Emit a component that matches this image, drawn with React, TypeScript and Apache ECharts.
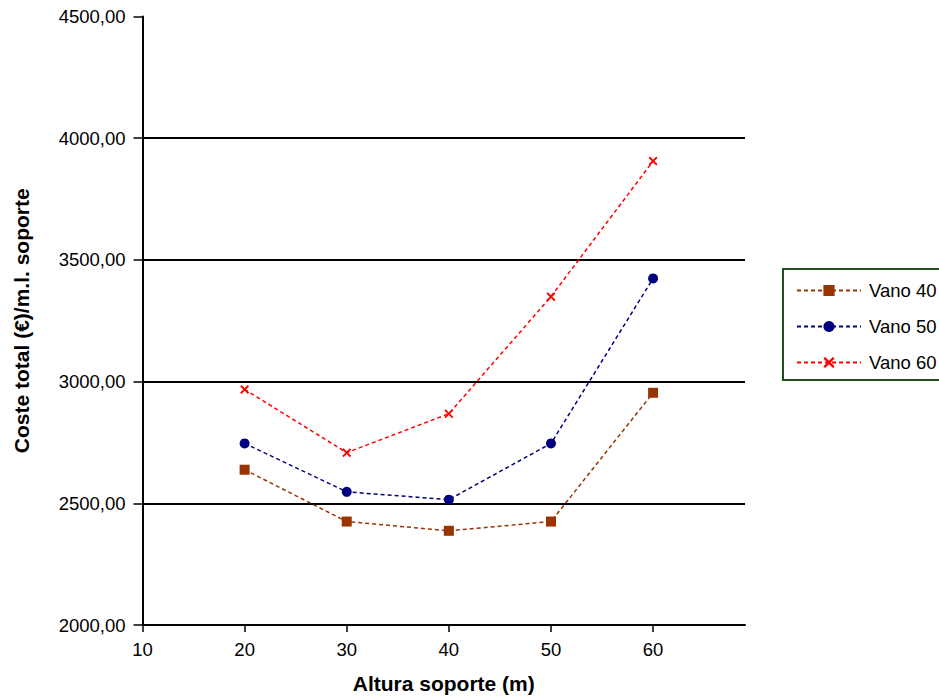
import React, { useEffect, useRef } from "react";
import * as echarts from "echarts";

const alturas = [20, 30, 40, 50, 60];
const vano40 = [2638, 2425, 2387, 2425, 2954];
const vano50 = [2746, 2547, 2515, 2746, 3424];
const vano60 = [2968, 2708, 2868, 3349, 3906];
const xTicks = [10, 20, 30, 40, 50, 60];
const seriesNames = ["Vano 40", "Vano 50", "Vano 60"];

const CROSS =
  "path://M0,1.5 L1.5,0 L5,3.5 L8.5,0 L10,1.5 L6.5,5 L10,8.5 L8.5,10 L5,6.5 L1.5,10 L0,8.5 L3.5,5 Z";

const FONT = "'Liberation Sans', Arial, Helvetica, sans-serif";

export default function App() {
  const ref = useRef<HTMLDivElement>(null);
  useEffect(() => {
    if (!ref.current) return;
    const chart = echarts.init(ref.current, null, { renderer: "svg" });
    const mk = (name: string, data: number[], color: string, symbol: string, size: number) => ({
      name,
      type: "line",
      data: alturas.map((x, i) => [x, data[i]]),
      symbol,
      symbolSize: size,
      showSymbol: true,
      lineStyle: { color, width: 1.5, type: [4, 3] },
      itemStyle: { color },
      emphasis: { disabled: true },
    });
    chart.setOption({
      animation: false,
      backgroundColor: "#ffffff",
      textStyle: { fontFamily: FONT },
      grid: { left: 142.5, top: 16.5, width: 602.5, height: 615.5 },
      xAxis: {
        type: "value",
        min: 10,
        max: 69,
        interval: 10,
        name: "Altura soporte (m)",
        nameLocation: "middle",
        nameGap: 48,
        nameTextStyle: { fontSize: 21, fontWeight: "bold", color: "#000", fontFamily: FONT },
        axisLine: { show: true, onZero: false, lineStyle: { color: "#000", width: 2 } },
        axisTick: { show: true, length: 7, customValues: xTicks, lineStyle: { color: "#000", width: 1.5 } },
        axisLabel: { fontSize: 18.5, color: "#000", margin: 15, customValues: xTicks, fontFamily: FONT },
        splitLine: { show: false },
      },
      yAxis: {
        type: "value",
        min: 2000,
        max: 4500,
        interval: 500,
        name: "Coste total (€)/m.l. soporte",
        nameLocation: "middle",
        nameGap: 111,
        nameTextStyle: { fontSize: 21, fontWeight: "bold", color: "#000", fontFamily: FONT },
        axisLine: { show: true, lineStyle: { color: "#000", width: 2 } },
        axisTick: { show: true, length: 9, lineStyle: { color: "#000", width: 1.5 } },
        axisLabel: {
          fontSize: 18.5,
          color: "#000",
          margin: 17,
          fontFamily: FONT,
          formatter: (v: number) => v.toFixed(2).replace(".", ","),
        },
        splitLine: { show: true, showMinLine: false, showMaxLine: false, lineStyle: { color: "#000", width: 2 } },
      },
      legend: {
        data: seriesNames,
        orient: "vertical",
        left: 783,
        top: 269,
        padding: [12, 20, 8, 13],
        itemWidth: 64,
        itemHeight: 14,
        itemGap: 17,
        borderColor: "#1f4f1f",
        borderWidth: 2,
        borderRadius: 0,
        textStyle: { fontSize: 18.5, color: "#000", fontFamily: FONT, padding: [0, 0, 0, 3] },
      },
      series: [
        mk(seriesNames[0], vano40, "#993300", "rect", 10),
        mk(seriesNames[1], vano50, "#000080", "circle", 10),
        mk(seriesNames[2], vano60, "#ff0000", CROSS, 9),
      ],
    });
    return () => chart.dispose();
  }, []);
  return <div ref={ref} style={{ width: 939, height: 699, position: "absolute", left: 0, top: 0 }} />;
}
